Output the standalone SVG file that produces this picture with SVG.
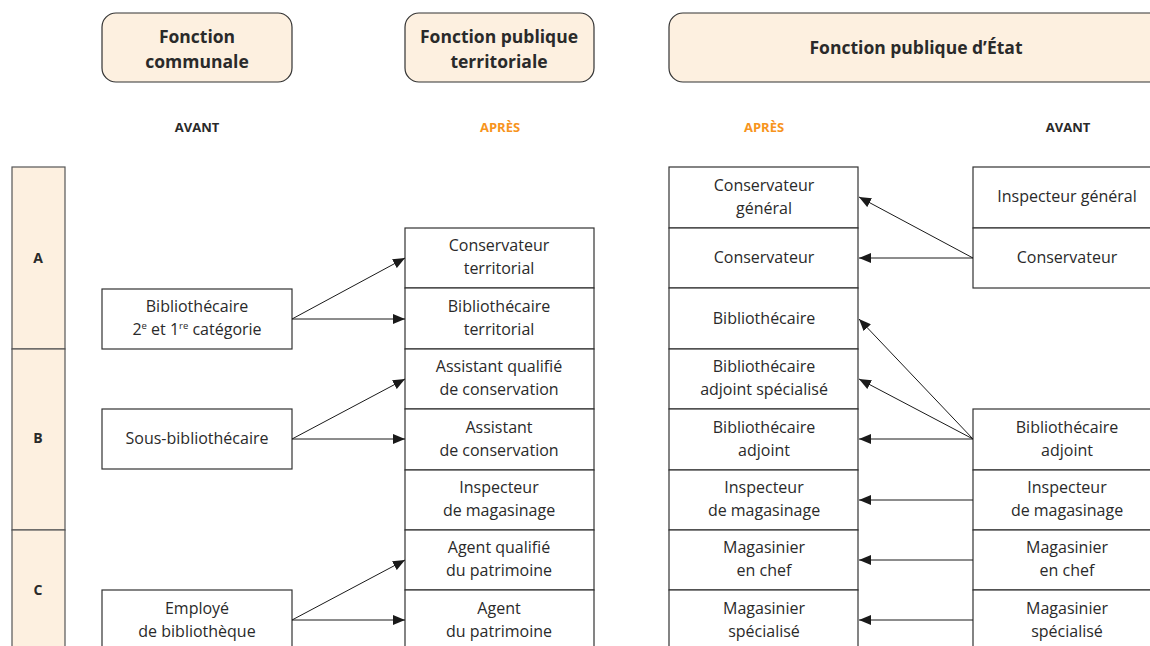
<svg xmlns="http://www.w3.org/2000/svg" width="1150" height="646" viewBox="0 0 1150 646">
<defs>
<marker id="ah" markerUnits="userSpaceOnUse" markerWidth="13" markerHeight="10" refX="12" refY="5" orient="auto">
<path d="M0,0 L12,5 L0,10 z" fill="#1a1a1a"/>
</marker>
<style>
.hdr{fill:#fdf0e0;stroke:#333;stroke-width:1.2}
.cat{fill:#fdf0e0;stroke:#555;stroke-width:1.2}
.box{fill:#fff;stroke:#333;stroke-width:1.2}
.t{font-family:"Open Sans","Noto Sans",sans-serif;font-size:16px;fill:#2a2a2a;text-anchor:middle}
.h{font-family:"Open Sans","Noto Sans",sans-serif;font-size:17.5px;font-weight:bold;fill:#2a2a2a;text-anchor:middle}
.s{font-family:"Open Sans","Noto Sans",sans-serif;font-size:13px;font-weight:bold;text-anchor:middle}
.av{fill:#2a2a2a}
.ap{fill:#f7941d}
.c{font-family:"Open Sans","Noto Sans",sans-serif;font-size:14px;font-weight:bold;fill:#2a2a2a;text-anchor:middle}
.sup{font-size:9.5px}
.ln{stroke:#1a1a1a;stroke-width:1;fill:none;marker-end:url(#ah)}
</style>
</defs>
<rect width="1150" height="646" fill="#fff"/>

<!-- headers -->
<g id="h-communale"><rect class="hdr" x="102" y="13" width="190" height="69" rx="14"/><text class="h" x="197" y="43">Fonction</text><text class="h" x="197" y="68">communale</text></g>
<g id="h-territoriale"><rect class="hdr" x="405" y="13" width="189" height="69" rx="14"/><text class="h" x="499" y="43">Fonction publique</text><text class="h" x="499" y="68">territoriale</text></g>
<g id="h-etat"><rect class="hdr" x="669" y="13" width="500" height="69" rx="14"/><text class="h" x="916" y="54">Fonction publique d’État</text></g>

<g id="labels">
<text class="s av" x="197" y="132">AVANT</text>
<text class="s ap" x="500" y="132">APRÈS</text>
<text class="s ap" x="764" y="132">APRÈS</text>
<text class="s av" x="1068" y="132">AVANT</text>
</g>

<!-- categories -->
<g id="cat-A"><rect class="cat" x="12" y="167" width="53" height="182"/><text class="c" x="38" y="263">A</text></g>
<g id="cat-B"><rect class="cat" x="12" y="349" width="53" height="181"/><text class="c" x="38" y="443">B</text></g>
<g id="cat-C"><rect class="cat" x="12" y="530" width="53" height="130"/><text class="c" x="38" y="595">C</text></g>

<!-- Fonction communale AVANT -->
<g id="fc-biblio"><rect class="box" x="102" y="289" width="190" height="60"/><text class="t" x="197" y="312">Bibliothécaire</text><text class="t" x="197" y="335">2<tspan class="sup" dy="-6">e</tspan><tspan dy="6"> et 1</tspan><tspan class="sup" dy="-6">re</tspan><tspan dy="6"> catégorie</tspan></text></g>
<g id="fc-sous"><rect class="box" x="102" y="409" width="190" height="60"/><text class="t" x="197" y="444">Sous-bibliothécaire</text></g>
<g id="fc-employe"><rect class="box" x="102" y="590" width="190" height="70"/><text class="t" x="197" y="614">Employé</text><text class="t" x="197" y="637">de bibliothèque</text></g>

<!-- FPT APRES -->
<g id="fpt-cons"><rect class="box" x="405" y="228" width="189" height="60"/><text class="t" x="499" y="251">Conservateur</text><text class="t" x="499" y="274">territorial</text></g>
<g id="fpt-biblio"><rect class="box" x="405" y="288" width="189" height="61"/><text class="t" x="499" y="312">Bibliothécaire</text><text class="t" x="499" y="335">territorial</text></g>
<g id="fpt-aqc"><rect class="box" x="405" y="349" width="189" height="60"/><text class="t" x="499" y="372">Assistant qualifié</text><text class="t" x="499" y="395">de conservation</text></g>
<g id="fpt-ac"><rect class="box" x="405" y="409" width="189" height="61"/><text class="t" x="499" y="433">Assistant</text><text class="t" x="499" y="456">de conservation</text></g>
<g id="fpt-im"><rect class="box" x="405" y="470" width="189" height="60"/><text class="t" x="499" y="493">Inspecteur</text><text class="t" x="499" y="516">de magasinage</text></g>
<g id="fpt-aqp"><rect class="box" x="405" y="530" width="189" height="60"/><text class="t" x="499" y="553">Agent qualifié</text><text class="t" x="499" y="576">du patrimoine</text></g>
<g id="fpt-ap"><rect class="box" x="405" y="590" width="189" height="70"/><text class="t" x="499" y="614">Agent</text><text class="t" x="499" y="637">du patrimoine</text></g>

<!-- FPE APRES -->
<g id="fpe-cg"><rect class="box" x="669" y="167" width="189" height="61"/><text class="t" x="764" y="191">Conservateur</text><text class="t" x="764" y="214">général</text></g>
<g id="fpe-c"><rect class="box" x="669" y="228" width="189" height="60"/><text class="t" x="764" y="263">Conservateur</text></g>
<g id="fpe-b"><rect class="box" x="669" y="288" width="189" height="61"/><text class="t" x="764" y="324">Bibliothécaire</text></g>
<g id="fpe-bas"><rect class="box" x="669" y="349" width="189" height="60"/><text class="t" x="764" y="372">Bibliothécaire</text><text class="t" x="764" y="395">adjoint spécialisé</text></g>
<g id="fpe-ba"><rect class="box" x="669" y="409" width="189" height="61"/><text class="t" x="764" y="433">Bibliothécaire</text><text class="t" x="764" y="456">adjoint</text></g>
<g id="fpe-im"><rect class="box" x="669" y="470" width="189" height="60"/><text class="t" x="764" y="493">Inspecteur</text><text class="t" x="764" y="516">de magasinage</text></g>
<g id="fpe-mc"><rect class="box" x="669" y="530" width="189" height="60"/><text class="t" x="764" y="553">Magasinier</text><text class="t" x="764" y="576">en chef</text></g>
<g id="fpe-ms"><rect class="box" x="669" y="590" width="189" height="70"/><text class="t" x="764" y="614">Magasinier</text><text class="t" x="764" y="637">spécialisé</text></g>

<!-- FPE AVANT -->
<g id="av-ig"><rect class="box" x="973" y="167" width="190" height="61"/><text class="t" x="1067" y="202">Inspecteur général</text></g>
<g id="av-c"><rect class="box" x="973" y="228" width="190" height="60"/><text class="t" x="1067" y="263">Conservateur</text></g>
<g id="av-ba"><rect class="box" x="973" y="409" width="190" height="61"/><text class="t" x="1067" y="433">Bibliothécaire</text><text class="t" x="1067" y="456">adjoint</text></g>
<g id="av-im"><rect class="box" x="973" y="470" width="190" height="60"/><text class="t" x="1067" y="493">Inspecteur</text><text class="t" x="1067" y="516">de magasinage</text></g>
<g id="av-mc"><rect class="box" x="973" y="530" width="190" height="60"/><text class="t" x="1067" y="553">Magasinier</text><text class="t" x="1067" y="576">en chef</text></g>
<g id="av-ms"><rect class="box" x="973" y="590" width="190" height="70"/><text class="t" x="1067" y="614">Magasinier</text><text class="t" x="1067" y="637">spécialisé</text></g>

<!-- connectors -->
<g id="connectors">
<line class="ln" x1="292" y1="319" x2="405" y2="258"/>
<line class="ln" x1="292" y1="319" x2="405" y2="319"/>
<line class="ln" x1="292" y1="439" x2="405" y2="379"/>
<line class="ln" x1="292" y1="439" x2="405" y2="439"/>
<line class="ln" x1="292" y1="620" x2="405" y2="560"/>
<line class="ln" x1="292" y1="620" x2="405" y2="620"/>
<line class="ln" x1="973" y1="258" x2="859" y2="197"/>
<line class="ln" x1="973" y1="258" x2="859" y2="258"/>
<line class="ln" x1="973" y1="439" x2="859" y2="319"/>
<line class="ln" x1="973" y1="439" x2="859" y2="379"/>
<line class="ln" x1="973" y1="439" x2="859" y2="439"/>
<line class="ln" x1="973" y1="500" x2="859" y2="500"/>
<line class="ln" x1="973" y1="560" x2="859" y2="560"/>
<line class="ln" x1="973" y1="620" x2="859" y2="620"/>
</g>
</svg>
